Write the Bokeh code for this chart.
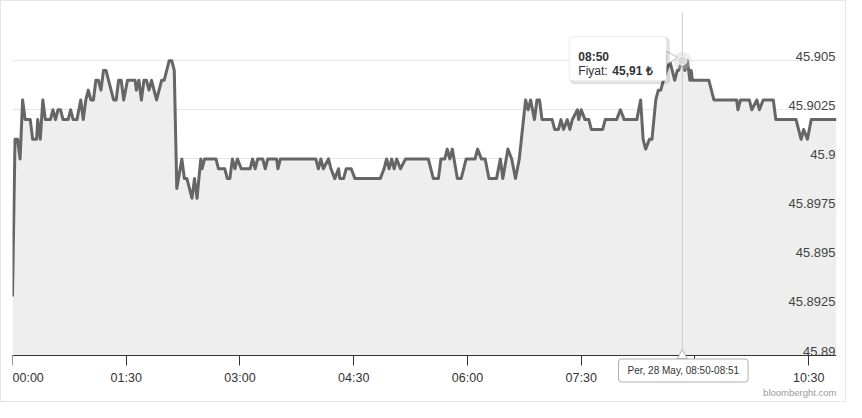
from bokeh.plotting import figure
from bokeh.models import Range1d, FixedTicker, Label, BoxAnnotation, Grid, LinearAxis
from bokeh.embed import file_html
from bokeh.resources import INLINE
from bokeh.core.properties import value
import math

# ---------------- data ----------------
times = ["00:00", "00:02", "00:04", "00:06", "00:08", "00:10", "00:14", "00:16", "00:19", "00:20",
         "00:22", "00:24", "00:26", "00:30", "00:32", "00:34", "00:36", "00:38", "00:40", "00:44",
         "00:46", "00:48", "00:51", "00:54", "00:56", "00:58", "01:00", "01:02", "01:04", "01:06",
         "01:08", "01:10", "01:12", "01:14", "01:16", "01:20", "01:22", "01:24", "01:26", "01:28",
         "01:31", "01:37", "01:38", "01:40", "01:42", "01:44", "01:46", "01:48", "01:50", "01:54",
         "01:58", "02:00", "02:04", "02:06", "02:08", "02:10", "02:14", "02:16", "02:18", "02:20",
         "02:22", "02:24", "02:26", "02:29", "02:30", "02:32", "02:41", "02:43", "02:48", "02:50",
         "02:52", "02:54", "02:56", "02:58", "03:01", "03:08", "03:10", "03:12", "03:14", "03:18",
         "03:20", "03:22", "03:29", "03:30", "03:32", "04:00", "04:02", "04:04", "04:06", "04:10",
         "04:12", "04:15", "04:18", "04:19", "04:22", "04:24", "04:28", "04:31", "04:51", "04:54",
         "04:56", "04:58", "05:00", "05:02", "05:04", "05:07", "05:11", "05:29", "05:33", "05:37",
         "05:39", "05:42", "05:44", "05:46", "05:48", "05:52", "05:55", "05:59", "06:06", "06:08",
         "06:11", "06:14", "06:17", "06:23", "06:26", "06:28", "06:32", "06:35", "06:38", "06:41",
         "06:46", "06:48", "06:50", "06:53", "06:55", "06:57", "06:59", "07:07", "07:09", "07:12",
         "07:14", "07:16", "07:19", "07:21", "07:23", "07:27", "07:28", "07:30", "07:33", "07:36",
         "07:38", "07:47", "07:49", "07:58", "08:01", "08:04", "08:14", "08:17", "08:19", "08:21",
         "08:24", "08:26", "08:29", "08:31", "08:33", "08:35", "08:40", "08:44", "08:46", "08:47",
         "08:50", "08:52", "08:54", "08:56", "08:57", "08:58", "09:11", "09:15", "09:33", "09:34",
         "09:36", "09:43", "09:45", "09:49", "09:51", "09:54", "10:02", "10:04", "10:20", "10:24",
         "10:26", "10:29", "10:32", "10:52"]
prices = [45.893, 45.901, 45.901, 45.900, 45.903, 45.902, 45.902, 45.901, 45.901, 45.902,
          45.901, 45.903, 45.902, 45.902, 45.9025, 45.902, 45.9025, 45.9025, 45.902, 45.902,
          45.9025, 45.902, 45.902, 45.903, 45.902, 45.903, 45.9035, 45.903, 45.903, 45.904,
          45.904, 45.9035, 45.9045, 45.9045, 45.904, 45.903, 45.903, 45.904, 45.904, 45.903,
          45.904, 45.904, 45.9035, 45.904, 45.903, 45.904, 45.904, 45.9035, 45.904, 45.903,
          45.904, 45.904, 45.905, 45.905, 45.9045, 45.8985, 45.900, 45.899, 45.899, 45.8985,
          45.898, 45.899, 45.898, 45.900, 45.8995, 45.900, 45.900, 45.8995, 45.8995, 45.899,
          45.899, 45.900, 45.8995, 45.900, 45.8995, 45.8995, 45.900, 45.8995, 45.900, 45.900,
          45.8995, 45.900, 45.900, 45.8995, 45.900, 45.900, 45.8995, 45.900, 45.8995, 45.900,
          45.8995, 45.899, 45.8995, 45.899, 45.899, 45.8995, 45.8995, 45.899, 45.899, 45.8995,
          45.900, 45.8995, 45.900, 45.8995, 45.900, 45.8995, 45.900, 45.900, 45.899, 45.899,
          45.900, 45.900, 45.9005, 45.900, 45.9005, 45.899, 45.899, 45.900, 45.900, 45.9005,
          45.900, 45.900, 45.899, 45.899, 45.900, 45.899, 45.9005, 45.900, 45.899, 45.900,
          45.903, 45.9025, 45.903, 45.902, 45.903, 45.903, 45.902, 45.902, 45.9015, 45.9015,
          45.902, 45.9015, 45.902, 45.9015, 45.902, 45.9025, 45.902, 45.9025, 45.902, 45.902,
          45.9015, 45.9015, 45.902, 45.902, 45.9025, 45.902, 45.902, 45.903, 45.901, 45.9005,
          45.901, 45.901, 45.903, 45.9035, 45.9035, 45.904, 45.905, 45.904, 45.9045, 45.9045,
          45.905, 45.9045, 45.905, 45.904, 45.9045, 45.904, 45.904, 45.903, 45.903, 45.9025,
          45.903, 45.903, 45.9025, 45.903, 45.9025, 45.903, 45.903, 45.902, 45.902, 45.901,
          45.9015, 45.901, 45.902, 45.902]

x_tick_labels = ["00:00", "01:30", "03:00", "04:30", "06:00", "07:30", "09:00", "10:30"]
y_tick_values = [45.89, 45.8925, 45.895, 45.8975, 45.9, 45.9025, 45.905]
y_tick_labels = ["45.89", "45.8925", "45.895", "45.8975", "45.9", "45.9025", "45.905"]

x_start_label, x_end_label = "00:00", "10:52"
y_min, y_max = 45.89, 45.9075

hover_time = "08:50"
hover_price = 45.905
hover_header = "08:50"
hover_name = "Fiyat: "
hover_value = "45,91 \u20ba"
hover_period = "Per, 28 May, 08:50-08:51"
credit_text = "bloomberght.com"


def to_min(s):
    h, m = s.split(":")
    return int(h) * 60 + int(m)


xs = [to_min(t) for t in times]
x0, x1 = to_min(x_start_label), to_min(x_end_label)
hx = to_min(hover_time)

# ---------------- layout ----------------
W, H = 846, 402
ML, MR, MT, MB = 11, 11, 10, 1
FRAME_W = W - ML - MR
FRAME_H = H - MT - MB
PLOT_H = 344                     # pixels between y_max and y_min (axis line)
pyv = PLOT_H / (y_max - y_min)   # px per unit
pxm = FRAME_W / (x1 - x0)        # px per minute
y_low = y_max - FRAME_H / pyv    # frame extends below the axis to hold bottom texts

FONT = "Liberation Sans"
TXT = "#333333"

p = figure(width=W, height=H, output_backend="svg", toolbar_location=None,
           x_range=Range1d(x0, x1), y_range=Range1d(y_low, y_max),
           y_axis_location=None, x_axis_location=None,
           min_border_left=ML, min_border_right=MR, min_border_top=MT, min_border_bottom=MB)
p.outline_line_color = None
p.background_fill_color = "white"
p.border_fill_color = "white"
p.styles = {"border": "1px solid #e6e6e6"}
for g in p.xgrid:
    g.visible = False
for g in p.ygrid:
    g.visible = False

p.add_layout(Grid(dimension=1, ticker=FixedTicker(ticks=y_tick_values),
                  grid_line_color="#e6e6e6", grid_line_width=1))

# series
p.varea(x=xs, y1=y_min, y2=prices, fill_color="#eeeeee", fill_alpha=1)
p.line(xs, prices, line_color="#666666", line_width=3, line_join="round")

# x axis fixed at the bottom of the plotting area
xtick_vals = [to_min(t) for t in x_tick_labels]
xaxis = LinearAxis(ticker=FixedTicker(ticks=xtick_vals), fixed_location=y_min)
overrides = {v: lab for v, lab in zip(xtick_vals, x_tick_labels)}
overrides[xtick_vals[0]] = ""
xaxis.major_label_overrides = overrides
xaxis.axis_line_color = "#333333"
xaxis.major_tick_line_color = "#333333"
xaxis.major_tick_in = 0
xaxis.major_tick_out = 10
xaxis.minor_tick_line_color = None
xaxis.major_label_standoff = 5
xaxis.major_label_text_font = FONT
xaxis.major_label_text_font_size = "12.5px"
xaxis.major_label_text_color = TXT
p.add_layout(xaxis, "below")

p.add_layout(Label(x=x0, y=y_min, y_offset=-22, text=x_start_label, text_align="left",
                   text_baseline="middle", text_font=FONT, text_font_size="12.5px",
                   text_color=TXT))

# y labels inside plot
p.text(x=[x1] * len(y_tick_values), y=y_tick_values, text=y_tick_labels,
       text_align="right", text_baseline="bottom", x_offset=-1,
       text_font=value(FONT), text_font_size="13px", text_color="#444444")

# crosshair
p.segment(x0=[hx], y0=[y_min], x1=[hx], y1=[y_max], line_color="#cccccc", line_width=1)

# hover marker
p.scatter([hx], [hover_price], size=18, fill_color="#cccccc", fill_alpha=0.35, line_color=None)
p.scatter([hx], [hover_price], size=9, fill_color="#d9d9d9", line_color="#f4f4f4", line_width=1)

# tooltip tail (right side of box)
p.scatter([hx - 12.0 / pxm], [hover_price + 3 / pyv], marker="triangle", size=13,
          angle=-math.pi / 2, fill_color="white", line_color="#c0c0c0")

# tooltip box + shadow
p.add_layout(BoxAnnotation(left=hx - 111.0 / pxm, right=hx - 14.0 / pxm,
                           top=hover_price + 22 / pyv, bottom=hover_price - 22 / pyv,
                           fill_color=None, line_color="black", line_alpha=0.12, line_width=3,
                           border_radius=3))
p.add_layout(BoxAnnotation(left=hx - 113.0 / pxm, right=hx - 16.0 / pxm,
                           top=hover_price + 24 / pyv, bottom=hover_price - 20 / pyv,
                           fill_color="white", fill_alpha=1, line_color="#c0c0c0", line_width=1,
                           border_radius=3))
p.add_layout(Label(x=hx, y=hover_price, x_offset=-104, y_offset=3.3, text=hover_header,
                   text_font=FONT, text_font_size="12px", text_font_style="bold",
                   text_color=TXT, text_baseline="alphabetic"))
p.add_layout(Label(x=hx, y=hover_price, x_offset=-104, y_offset=-10.7, text=hover_name,
                   text_font=FONT, text_font_size="12px",
                   text_color=TXT, text_baseline="alphabetic"))
p.add_layout(Label(x=hx, y=hover_price, x_offset=-70, y_offset=-10.7, text=hover_value,
                   text_font=FONT, text_font_size="12px", text_font_style="bold",
                   text_color=TXT, text_baseline="alphabetic"))

# bottom crosshair label
p.add_layout(Label(x=hx, y=y_min, x_offset=2, y_offset=-16, text=hover_period,
                   text_align="center", text_baseline="middle",
                   text_font=FONT, text_font_size="10px", text_alpha=0,
                   border_line_color="black", border_line_alpha=0.12, border_line_width=3,
                   border_radius=3, padding=dict(left=9, right=9, top=6, bottom=6)))
p.add_layout(Label(x=hx, y=y_min, x_offset=1, y_offset=-15, text=hover_period,
                   text_align="center", text_baseline="middle",
                   text_font=FONT, text_font_size="10px", text_color=TXT,
                   background_fill_color="white", border_line_color="#b0b0b0",
                   border_radius=3, padding=dict(left=9, right=9, top=6, bottom=6)))
tail = p.scatter([hx], [y_min - 0.1 / pyv], marker="triangle", size=10,
                 fill_color="white", line_color="#b0b0b0")
tail.level = "overlay"

# credits
p.add_layout(Label(x=x1, y=y_min, y_offset=-37, text=credit_text, text_align="right",
                   text_baseline="middle", text_font=FONT,
                   text_font_size="9.5px", text_color="#999999"))

open("out.html", "w").write(file_html(p, INLINE))
